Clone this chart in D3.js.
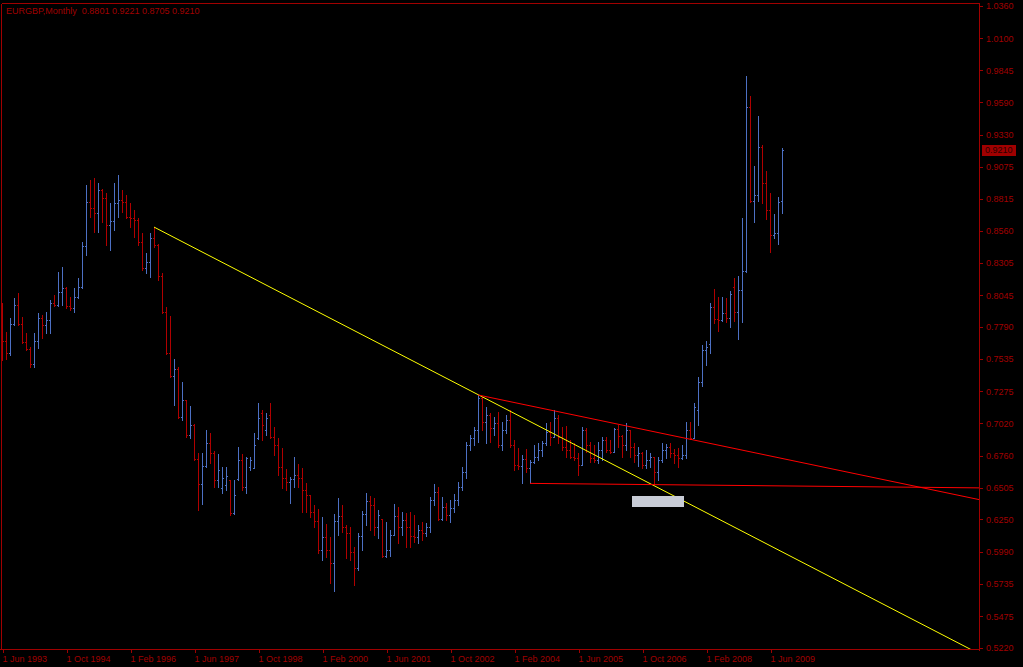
<!DOCTYPE html>
<html><head><meta charset="utf-8">
<script src="https://cdn.jsdelivr.net/npm/d3@7/dist/d3.min.js"></script>
<style>html,body{margin:0;padding:0;background:#000;overflow:hidden}</style>
</head><body>
<svg id="c" width="1023" height="667"></svg>
<script>
const symbolTitle = "EURGBP,Monthly";
const lastQuote = [0.8801, 0.9221, 0.8705, 0.9210];

const openP = [.7910,.7678,.7582,.7814,.7966,.7814,.7670,.7614,.7494,.7678,
.7862,.7806,.7846,.7982,.7966,.8070,.8102,.7958,.7942,.8030,
.8110,.8438,.8790,.8742,.8702,.8886,.8822,.8606,.8638,.8782,
.8806,.8790,.8670,.8662,.8646,.8470,.8262,.8310,.8502,.8446,
.8198,.7910,.7582,.7398,.7454,.7070,.7206,.6926,.7006,.6734,
.6534,.6678,.6862,.6782,.6566,.6502,.6526,.6566,.6302,.6574,
.6726,.6510,.6670,.6662,.6902,.7102,.6966,.7086,.6910,.6846,
.6670,.6582,.6550,.6574,.6606,.6582,.6486,.6446,.6310,.6238,
.6006,.6110,.6006,.5902,.6238,.6278,.6190,.6142,.5990,.5862,
.6118,.6294,.6398,.6366,.6190,.6254,.5958,.6006,.6126,.6278,
.6190,.6246,.6190,.6118,.6110,.6166,.6142,.6190,.6406,.6470,
.6254,.6350,.6286,.6342,.6406,.6510,.6630,.6846,.6902,.6966,
.7222,.7030,.7086,.6982,.7022,.6846,.6966,.7046,.6846,.6686,
.6678,.6734,.6662,.6710,.6750,.6806,.6862,.6950,.6910,.7062,
.6910,.6830,.6806,.6750,.6742,.6686,.6966,.6846,.6742,.6726,
.6806,.6886,.6806,.6790,.6974,.6918,.6846,.6966,.6830,.6766,
.6782,.6686,.6726,.6750,.6630,.6726,.6806,.6830,.6782,.6766,
.6742,.6766,.6966,.6902,.7126,.7350,.7606,.7654,.7950,.7854,
.7846,.7902,.7862,.8110,.7910,.8086,.8238,.9550,.8798,.8846,
.9230,.8942,.8726,.8526,.8542,.8801];

const highP = [.7982,.7750,.7862,.8022,.8062,.7870,.7742,.7630,.7742,.7902,
.7886,.7910,.8006,.8046,.8230,.8270,.8110,.8030,.8102,.8182,
.8470,.8926,.8966,.8982,.8942,.8894,.8862,.8782,.8942,.9006,
.8886,.8846,.8782,.8726,.8662,.8542,.8382,.8542,.8590,.8454,
.8222,.7950,.7878,.7534,.7470,.7350,.7206,.7158,.7014,.6782,
.6782,.6966,.6942,.6798,.6774,.6670,.6670,.6566,.6566,.6830,
.6774,.6750,.6750,.6942,.7182,.7126,.7102,.7182,.6990,.6902,
.6822,.6654,.6590,.6750,.6694,.6662,.6542,.6446,.6366,.6334,
.6270,.6214,.6110,.6294,.6422,.6366,.6206,.6190,.6030,.6142,
.6318,.6462,.6438,.6422,.6326,.6254,.6230,.6166,.6374,.6350,
.6310,.6302,.6310,.6286,.6206,.6230,.6222,.6430,.6534,.6510,
.6430,.6382,.6406,.6454,.6550,.6670,.6870,.6926,.6990,.7246,
.7230,.7150,.7102,.7070,.7110,.7030,.7086,.7126,.6886,.6822,
.6766,.6814,.6726,.6846,.6862,.6878,.7022,.7030,.7126,.7086,
.6990,.6998,.6886,.6862,.6782,.6990,.6982,.6870,.6846,.6870,
.6910,.6910,.6886,.6982,.7006,.6926,.7022,.6966,.6862,.6830,
.6790,.6806,.6782,.6750,.6750,.6862,.6854,.6862,.6814,.6822,
.6846,.7030,.7030,.7182,.7390,.7646,.7678,.7982,.8094,.8030,
.8030,.8022,.8078,.8182,.8198,.8662,.9798,.9638,.9078,.9478,
.9246,.9038,.8862,.8694,.8830,.9221];

const lowP = [.7526,.7534,.7566,.7806,.7806,.7662,.7606,.7470,.7470,.7622,
.7702,.7742,.7742,.7958,.7958,.7966,.7942,.7926,.7910,.8022,
.8102,.8366,.8670,.8550,.8550,.8630,.8446,.8406,.8566,.8670,
.8710,.8662,.8590,.8510,.8446,.8246,.8222,.8190,.8430,.8166,
.7902,.7574,.7390,.7166,.7062,.7046,.6910,.6902,.6726,.6326,
.6374,.6670,.6702,.6510,.6510,.6462,.6486,.6286,.6294,.6566,
.6486,.6462,.6646,.6662,.6894,.6886,.6926,.6902,.6766,.6606,
.6502,.6486,.6382,.6510,.6510,.6310,.6310,.6270,.6190,.5982,
.5926,.5950,.5742,.5678,.6126,.6150,.5942,.5926,.5726,.5846,
.6006,.6206,.6166,.6126,.6102,.5950,.5950,.5958,.6126,.6062,
.6126,.6030,.6030,.6070,.6062,.6086,.6118,.6150,.6366,.6246,
.6246,.6246,.6230,.6310,.6366,.6486,.6582,.6806,.6846,.6870,
.6966,.6862,.6870,.6926,.6830,.6806,.6942,.6830,.6646,.6654,
.6542,.6630,.6542,.6702,.6726,.6758,.6846,.6846,.6910,.6862,
.6806,.6750,.6742,.6726,.6606,.6686,.6790,.6710,.6710,.6702,
.6726,.6790,.6782,.6790,.6830,.6750,.6806,.6750,.6710,.6678,
.6662,.6662,.6670,.6534,.6566,.6710,.6742,.6750,.6702,.6670,
.6734,.6742,.6894,.6902,.7006,.7318,.7486,.7582,.7822,.7758,
.7838,.7830,.7790,.7838,.7694,.7830,.8230,.8790,.8630,.8798,
.8782,.8654,.8390,.8502,.8454,.8705];

const closeP = [.7678,.7582,.7814,.7966,.7814,.7670,.7614,.7494,.7678,.7862,
.7806,.7846,.7982,.7966,.8070,.8102,.7958,.7942,.8030,.8110,
.8438,.8790,.8742,.8702,.8886,.8822,.8606,.8638,.8782,.8806,
.8790,.8670,.8662,.8646,.8470,.8262,.8310,.8502,.8446,.8198,
.7910,.7582,.7398,.7454,.7070,.7206,.6926,.7006,.6734,.6534,
.6678,.6862,.6782,.6566,.6646,.6582,.6598,.6302,.6446,.6726,
.6510,.6742,.6726,.6846,.7062,.7006,.7062,.6910,.6846,.6670,
.6582,.6550,.6574,.6606,.6582,.6486,.6446,.6310,.6238,.6006,
.6110,.6006,.5902,.6238,.6278,.6190,.6142,.5990,.5862,.6118,
.6294,.6398,.6366,.6190,.6286,.5958,.6006,.6126,.6278,.6190,
.6246,.6190,.6118,.6110,.6166,.6142,.6190,.6406,.6470,.6254,
.6350,.6286,.6342,.6406,.6510,.6630,.6846,.6902,.6966,.7222,
.7030,.7086,.6982,.7022,.6846,.6966,.7046,.6846,.6686,.6678,
.6734,.6662,.6710,.6750,.6806,.6862,.6950,.6910,.7062,.6910,
.6830,.6806,.6750,.6742,.6686,.6966,.6846,.6742,.6726,.6806,
.6886,.6806,.6790,.6974,.6918,.6846,.6966,.6830,.6766,.6782,
.6686,.6726,.6750,.6630,.6726,.6806,.6830,.6782,.6766,.6742,
.6766,.6966,.6902,.7150,.7350,.7606,.7630,.7950,.7854,.7846,
.7902,.7862,.8054,.7910,.8086,.8238,.9550,.8798,.8846,.9230,
.8942,.8726,.8526,.8542,.8790,.9210];

const priceTicks = [1.0360,1.0100,0.9845,0.9590,0.9330,0.9075,0.8815,0.8560,0.8305,0.8045,
  0.7790,0.7535,0.7275,0.7020,0.6760,0.6505,0.6250,0.5990,0.5735,0.5475,0.5220];
const timeTickIndex = [0,16,32,48,64,80,96,112,128,144,160,176,192];
const timeTickLabels = ["1 Jun 1993","1 Oct 1994","1 Feb 1996","1 Jun 1997","1 Oct 1998","1 Feb 2000",
  "1 Jun 2001","1 Oct 2002","1 Feb 2004","1 Jun 2005","1 Oct 2006","1 Feb 2008","1 Jun 2009"];

// trend lines: [barIndex, price] anchor pairs (rays extended to the right edge)
const yellowLine = [[38, 0.8590], [241.5, 0.5220]];
const redUpperLine = [[119, 0.7246], [180, 0.6838]];
const redFlatLine = [[132, 0.6538], [244.25, 0.6502]];
const labelBox = [[157.5, 0.6438], [170.5, 0.6348]];

const axisColor = "#a00000";
const upColor = "#4d70c4";
const downColor = "#b00000";
const FONT = "'Liberation Sans', Arial, sans-serif";

const svg = d3.select("#c");
const plotL = 1, plotR = 979, plotT = 3, plotB = 649;

const x = d3.scaleLinear().domain([0, 195]).range([2, 782]);
const y = d3.scaleLinear().domain([0.5220, 1.0360]).range([648, 6]);

svg.append("rect").attr("width",1023).attr("height",667).attr("fill","#000");

svg.append("defs").append("clipPath").attr("id","clip")
  .append("rect").attr("x",plotL+1).attr("y",plotT+1).attr("width",plotR-plotL-1).attr("height",plotB-plotT-1);

const plot = svg.append("g").attr("clip-path","url(#clip)");

// bars
const bars = d3.range(openP.length).map(i => ({i, o:openP[i], h:highP[i], l:lowP[i], c:closeP[i]}));
const bg = plot.append("g").attr("shape-rendering","crispEdges");
const g = bg.selectAll("g.bar").data(bars).join("g").attr("class","bar")
  .attr("fill", d => d.c >= d.o ? upColor : downColor);
g.append("rect").attr("x", d => Math.round(x(d.i))).attr("width",1)
  .attr("y", d => Math.round(y(d.h))).attr("height", d => Math.max(1, Math.round(y(d.l)) - Math.round(y(d.h)) + 1));
g.append("rect").attr("x", d => Math.round(x(d.i)) - 1).attr("width",1)
  .attr("y", d => Math.round(y(d.o))).attr("height",1);
g.append("rect").attr("x", d => Math.round(x(d.i)) + 1).attr("width",1)
  .attr("y", d => Math.round(y(d.c))).attr("height",1);

// trend lines
function ray(pts){
  const [a,b] = pts;
  const endI = x.invert(plotR);
  const slope = (b[1]-a[1])/(b[0]-a[0]);
  return [[a[0],a[1]],[endI, a[1] + slope*(endI-a[0])]];
}
const lineGen = d3.line().x(d => x(d[0])).y(d => y(d[1]));
plot.append("path").attr("d", lineGen(ray(yellowLine))).attr("stroke","#ffff00").attr("stroke-width",1).attr("fill","none");
plot.append("path").attr("d", lineGen(ray(redUpperLine))).attr("stroke","#ff0000").attr("stroke-width",1).attr("fill","none");
plot.append("path").attr("d", lineGen(ray(redFlatLine))).attr("stroke","#ff0000").attr("stroke-width",1).attr("fill","none");

// grey label box
plot.append("rect")
  .attr("x", x(labelBox[0][0])).attr("y", y(labelBox[0][1]))
  .attr("width", x(labelBox[1][0]) - x(labelBox[0][0]))
  .attr("height", y(labelBox[1][1]) - y(labelBox[0][1]))
  .attr("fill","#c8ccd6").attr("shape-rendering","crispEdges");

// frame
const frame = svg.append("g").attr("stroke", axisColor).attr("stroke-width",1).attr("shape-rendering","crispEdges");
frame.append("line").attr("x1",plotL+0.5).attr("x2",plotR+0.5).attr("y1",plotT+0.5).attr("y2",plotT+0.5);
frame.append("line").attr("x1",plotL+0.5).attr("x2",plotL+0.5).attr("y1",plotT+0.5).attr("y2",plotB+0.5);
frame.append("line").attr("x1",0).attr("x2",plotR+0.5).attr("y1",plotB+0.5).attr("y2",plotB+0.5);
frame.append("line").attr("x1",plotR+0.5).attr("x2",plotR+0.5).attr("y1",plotT+0.5).attr("y2",plotB+2);

// right price axis
const yAxis = d3.axisRight(y).tickValues(priceTicks).tickFormat(d3.format(".4f")).tickSize(3).tickSizeOuter(0).tickPadding(3);
const ya = svg.append("g").attr("transform",`translate(${plotR+1},0)`).call(yAxis);
ya.select(".domain").remove();
ya.selectAll("line").attr("stroke",axisColor).attr("shape-rendering","crispEdges");
ya.selectAll("text").attr("fill",axisColor).attr("font-family",FONT).attr("font-size","9px");

// bottom time axis
const xAxis = d3.axisBottom(x).tickValues(timeTickIndex).tickFormat((d,k) => timeTickLabels[k]).tickSize(4).tickSizeOuter(0);
const xa = svg.append("g").attr("transform",`translate(0,${plotB})`).call(xAxis);
xa.select(".domain").remove();
xa.selectAll("line").attr("stroke",axisColor).attr("shape-rendering","crispEdges").attr("transform","translate(0.5,0)");
xa.selectAll("text").attr("fill",axisColor).attr("font-family",FONT).attr("font-size","9px")
  .attr("text-anchor","start").attr("y",13).attr("dy",0).attr("x",0);

// current price label
const lastY = y(lastQuote[3]);
svg.append("rect").attr("x",982).attr("y",Math.round(lastY)-5).attr("width",34).attr("height",11)
  .attr("fill","#a00000").attr("shape-rendering","crispEdges");
svg.append("text").attr("x",985).attr("y",lastY).attr("dy","0.35em")
  .attr("fill","#2a0000").attr("font-family",FONT).attr("font-size","9px")
  .text(d3.format(".4f")(lastQuote[3]));

// title
svg.append("text").attr("x",6).attr("y",14).attr("fill",axisColor).attr("font-family",FONT).attr("font-size","9px")
  .attr("xml:space","preserve")
  .text(symbolTitle + "  " + lastQuote.map(d3.format(".4f")).join(" "));
</script>
</body></html>
